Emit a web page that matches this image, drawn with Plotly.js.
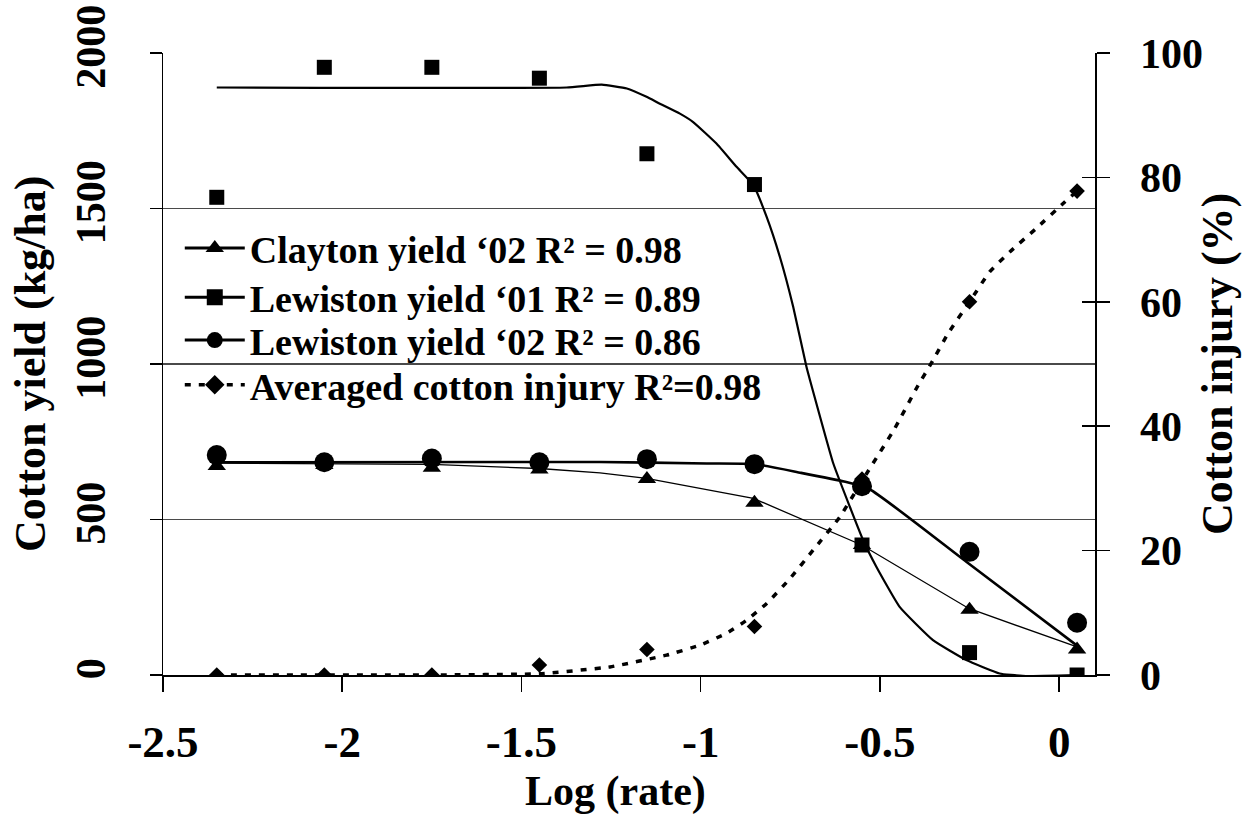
<!DOCTYPE html>
<html>
<head>
<meta charset="utf-8">
<script src="https://cdn.plot.ly/plotly-3.0.1.min.js"></script>
<style>
  html, body { margin: 0; padding: 0; background: #ffffff; }
  #chart { width: 1242px; height: 821px; }
</style>
</head>
<body>
<div id="chart"></div>
<script>
// ---------- Data ----------
const logRate = [-2.35, -2.05, -1.75, -1.45, -1.15, -0.85, -0.55, -0.25, 0.05];

// Observed yields (kg/ha)
const claytonYield02   = [672, 675, 666, 661, 630, 554, 418, 210, 82];
const lewistonYield01  = [1536, 1954, 1954, 1919, 1676, 1577, 418, 72, 0];
const lewistonYield02  = [707, 684, 696, 684, 694, 678, 607, 396, 168];
// Averaged cotton injury (%)
const avgInjury        = [0, 0, 0, 1.6, 4.1, 7.8, 31.5, 60.0, 77.8];

// Fitted curves
const claytonFitX  = [-2.35, -1.75, -1.45, -1.281, -1.151, -0.853, -0.551, -0.252, 0.048];
const claytonFitY  = [681, 677, 664, 650, 632, 568, 418, 214, 91];

const lew01FitX = [-2.35, -1.374, -1.276, -1.206, -1.151, -1.114, -1.058, -1.021, -0.956, -0.900, -0.853,
                   -0.816, -0.779, -0.742, -0.705, -0.695, -0.630, -0.584, -0.547, -0.510, -0.445, -0.352,
                   -0.259, -0.166, -0.102, 0.048];
const lew01FitY = [1889, 1889, 1898, 1886, 1859, 1837, 1805, 1778, 1709, 1634, 1575,
                   1473, 1344, 1184, 991, 948, 680, 541, 434, 348, 219, 112,
                   48, 5, -3, 0];

const lew02FitX = [-2.35, -1.281, -0.983, -0.85, -0.72, -0.60, -0.53, -0.259, 0.048];
const lew02FitY = [684, 685, 680, 678, 650, 622, 598, 364, 96];

const injuryFitX = [-2.35, -1.75, -1.45, -1.253, -1.095, -1.002, -0.928, -0.872, -0.816, -0.751, -0.686,
                    -0.612, -0.537, -0.459, -0.398, -0.352, -0.310, -0.25, -0.194, -0.138, -0.064, 0.011, 0.04];
const injuryFitY = [0, 0, 0.2, 1.3, 3.2, 4.8, 6.7, 8.8, 11.5, 15.5, 20.1,
                    25.4, 32.4, 39.6, 46.1, 50.6, 54.9, 60.0, 64.8, 68.0, 71.8, 75.8, 77.3];

// Axis ticks and labels
const xTickVals  = [-2.5, -2, -1.5, -1, -0.5, 0];
const xTickText  = ['-2.5', '-2', '-1.5', '-1', '-0.5', '0'];
const yTickVals  = [0, 500, 1000, 1500, 2000];
const y2TickVals = [0, 20, 40, 60, 80, 100];

const seriesNames = [
  'Clayton yield \u201802 R\u00b2 = 0.98',
  'Lewiston yield \u201801 R\u00b2 = 0.89',
  'Lewiston yield \u201802 R\u00b2 = 0.86',
  'Averaged cotton injury R\u00b2=0.98'
];

// ---------- Styling ----------
const FONT = '"Liberation Serif", "Times New Roman", "DejaVu Serif", serif';
const BLACK = '#000000';
const injDash = '6px,8px';

const traces = [
  // fitted curves
  { x: claytonFitX, y: claytonFitY, mode: 'lines', line: {color: BLACK, width: 1.3}, showlegend: false, hoverinfo: 'skip' },
  { x: lew01FitX, y: lew01FitY, mode: 'lines', line: {color: BLACK, width: 2.2, shape: 'spline', smoothing: 0.4}, showlegend: false, hoverinfo: 'skip' },
  { x: lew02FitX, y: lew02FitY, mode: 'lines', line: {color: BLACK, width: 2.6, shape: 'spline', smoothing: 0.5}, showlegend: false, hoverinfo: 'skip' },
  { x: injuryFitX, y: injuryFitY, yaxis: 'y2', mode: 'lines', line: {color: BLACK, width: 3.5, dash: injDash, shape: 'spline', smoothing: 0.4}, showlegend: false, hoverinfo: 'skip' },
  // observed points
  { x: logRate, y: lewistonYield01, mode: 'markers', marker: {symbol: 'square', size: 15, color: BLACK}, showlegend: false },
  { x: logRate, y: claytonYield02, mode: 'markers', marker: {symbol: 'triangle-up', size: 16, color: BLACK}, showlegend: false },
  { x: logRate, y: lewistonYield02, mode: 'markers', marker: {symbol: 'circle', size: 20, color: BLACK}, showlegend: false },
  { x: logRate, y: avgInjury, yaxis: 'y2', mode: 'markers', marker: {symbol: 'diamond', size: 12, color: BLACK}, showlegend: false },
  // legend entries (one legend box per row so the row spacing matches the reference)
  { x: [null], y: [null], name: seriesNames[0], legend: 'legend', mode: 'lines+markers', line: {color: BLACK, width: 3}, marker: {symbol: 'triangle-up', size: 18, color: BLACK} },
  { x: [null], y: [null], name: seriesNames[1], legend: 'legend2', mode: 'lines+markers', line: {color: BLACK, width: 3}, marker: {symbol: 'square', size: 18, color: BLACK} },
  { x: [null], y: [null], name: seriesNames[2], legend: 'legend3', mode: 'lines+markers', line: {color: BLACK, width: 3}, marker: {symbol: 'circle', size: 20, color: BLACK} },
  { x: [null], y: [null], name: seriesNames[3], legend: 'legend4', mode: 'lines+markers', line: {color: BLACK, width: 3.5, dash: injDash}, marker: {symbol: 'diamond', size: 15, color: BLACK} }
];

function legendBox(yPaper) {
  return {
    x: 0.018, y: yPaper, xanchor: 'left', yanchor: 'middle',
    bgcolor: 'rgba(0,0,0,0)', borderwidth: 0,
    font: {family: FONT, size: 38, color: BLACK, weight: 'bold'},
    itemwidth: 60, tracegroupgap: 0
  };
}

const layout = {
  width: 1242,
  height: 821,
  margin: {l: 163, r: 147, t: 53, b: 146},
  paper_bgcolor: '#ffffff',
  plot_bgcolor: '#ffffff',
  font: {family: FONT, color: BLACK, size: 40, weight: 'bold'},
  showlegend: true,
  legend: legendBox(0.686),
  legend2: legendBox(0.607),
  legend3: legendBox(0.538),
  legend4: legendBox(0.466),
  xaxis: {
    range: [-2.5, 0.1],
    tickmode: 'array', tickvals: xTickVals, ticktext: xTickText,
    ticks: 'outside', ticklen: 15, tickwidth: 1.5, tickcolor: BLACK,
    showline: true, linecolor: BLACK, linewidth: 1.5,
    showgrid: false, zeroline: false,
    tickfont: {family: FONT, size: 45, color: BLACK, weight: 'bold'},
    ticklabelstandoff: 11
  },
  yaxis: {
    range: [0, 2000],
    tickmode: 'array', tickvals: yTickVals,
    tickangle: -90,
    ticks: 'outside', ticklen: 12, tickwidth: 1.5, tickcolor: BLACK,
    showline: true, linecolor: BLACK, linewidth: 1.5,
    showgrid: true, gridcolor: '#4a4a4a', gridwidth: 1.5,
    zeroline: false,
    tickfont: {family: FONT, size: 42, color: BLACK, weight: 'bold'},
    ticklabelstandoff: 28
  },
  yaxis2: {
    range: [0, 100], overlaying: 'y', side: 'right',
    tickmode: 'array', tickvals: y2TickVals,
    ticks: 'outside', ticklen: 13, tickwidth: 1.5, tickcolor: BLACK,
    showline: true, linecolor: BLACK, linewidth: 1.5,
    showgrid: false, zeroline: false,
    tickfont: {family: FONT, size: 42, color: BLACK, weight: 'bold'},
    ticklabelstandoff: 22
  },
  yaxis3: {
    range: [0, 100], overlaying: 'y', side: 'right',
    tickmode: 'array', tickvals: y2TickVals,
    ticks: 'inside', ticklen: 13, tickwidth: 1.5, tickcolor: BLACK,
    showticklabels: false, showline: false, showgrid: false, zeroline: false
  },
  annotations: [
    { text: 'Log (rate)', xref: 'paper', yref: 'paper', x: 0.486, y: -0.187, xanchor: 'center', yanchor: 'middle',
      showarrow: false, font: {family: FONT, size: 42, color: BLACK, weight: 'bold'} },
    { text: 'Cotton yield (kg/ha)', xref: 'paper', yref: 'paper', x: -0.1427, y: 0.5, xanchor: 'center', yanchor: 'middle',
      textangle: -90, showarrow: false, font: {family: FONT, size: 44, color: BLACK, weight: 'bold'} },
    { text: 'Cotton injury (%)', xref: 'paper', yref: 'paper', x: 1.1309, y: 0.5, xanchor: 'center', yanchor: 'middle',
      textangle: -90, showarrow: false, font: {family: FONT, size: 44, color: BLACK, weight: 'bold'} }
  ]
};

// dummy trace so yaxis3 (inner half of the right axis tick marks) is drawn
traces.push({ x: [null], y: [null], yaxis: 'y3', mode: 'lines', showlegend: false, hoverinfo: 'skip' });

Plotly.newPlot('chart', traces, layout, {displayModeBar: false, staticPlot: true});
</script>
</body>
</html>
